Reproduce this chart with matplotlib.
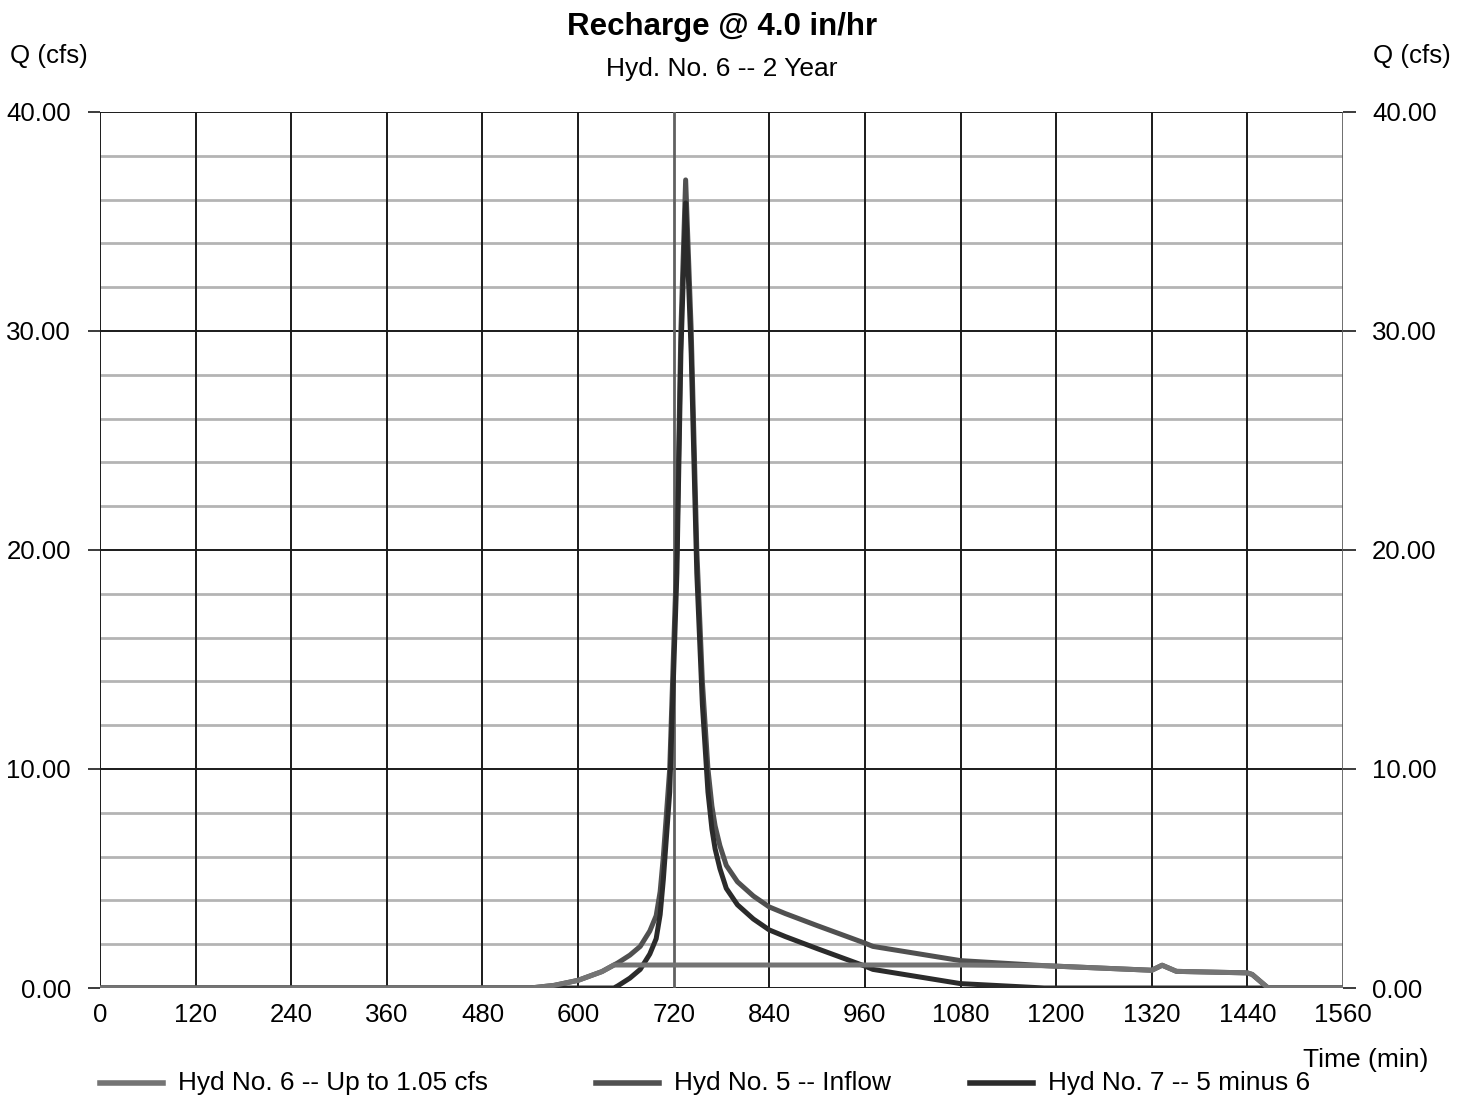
import numpy as np
import matplotlib
matplotlib.use("Agg")
import matplotlib.pyplot as plt
from matplotlib.lines import Line2D

plt.rcParams["font.family"] = ["Liberation Sans", "DejaVu Sans"]

# hydrograph ordinates (time in min, flow in cfs)
time_min = [0, 540, 570, 600, 630, 645, 650, 665, 678, 690, 698, 703, 707, 711, 715, 724, 729,
            735, 742, 749, 756, 763, 768, 772, 778, 786, 800, 820, 840, 860, 900, 960, 970, 1080,
            1185, 1320, 1333, 1351, 1440, 1446, 1466, 1560]
hyd5_inflow = [0, 0, 0.12, 0.35, 0.75, 1.05, 1.15, 1.5, 1.9, 2.6, 3.3, 4.4, 6.0, 8.0, 10.0, 20.0, 30.0,
               36.9, 30.0, 20.0, 14.0, 10.0, 8.3, 7.4, 6.5, 5.6, 4.85, 4.2, 3.7, 3.4, 2.85, 2.05, 1.9, 1.25,
               1.02, 0.81, 1.04, 0.76, 0.69, 0.62, 0.0, 0.0]
hyd6_recharge = [0, 0, 0.12, 0.35, 0.75, 1.05, 1.05, 1.05, 1.05, 1.05, 1.05, 1.05, 1.05, 1.05, 1.05, 1.05, 1.05,
                 1.05, 1.05, 1.05, 1.05, 1.05, 1.05, 1.05, 1.05, 1.05, 1.05, 1.05, 1.05, 1.05, 1.05, 1.05, 1.05, 1.05,
                 1.02, 0.81, 1.04, 0.76, 0.69, 0.62, 0.0, 0.0]
hyd7_diff = [0, 0, 0, 0, 0, 0, 0.1, 0.45, 0.85, 1.55, 2.25, 3.35, 4.95, 6.95, 8.95, 18.95, 28.95,
             35.85, 28.95, 18.95, 12.95, 8.95, 7.25, 6.35, 5.45, 4.55, 3.8, 3.15, 2.65, 2.35, 1.8, 1.0, 0.85, 0.2,
             0, 0, 0, 0, 0, 0, 0, 0]

series_labels = ["Hyd No. 6 -- Up to 1.05 cfs", "Hyd No. 5 -- Inflow", "Hyd No. 7 -- 5 minus 6"]
series_colors = ["#747474", "#505050", "#2b2b2b"]
x_ticks = np.arange(0, 1561, 120)
y_ticks = [0, 10, 20, 30, 40]

fig = plt.figure(figsize=(14.66, 10.98), dpi=100)
ax = fig.add_axes([100 / 1466, 1 - 988 / 1098, 1243 / 1466, 876 / 1098])

ax.set_xlim(0, 1560)
ax.set_ylim(0, 40)

# grid: light minor lines every 2 cfs, dark major every 10, verticals every 120 min
for yv in np.arange(2, 40, 2):
    if yv % 10:
        ax.axhline(yv, color="#b4b4b4", lw=2.0, zorder=1)
for yv in y_ticks:
    ax.axhline(yv, color="#1a1a1a", lw=1.4, zorder=1)
for xv in x_ticks:
    c = "#606060" if xv in (720, 1560) else "#1a1a1a"
    ax.axvline(xv, color=c, lw=1.4 if c == "#1a1a1a" else 2.0, zorder=1)

# inflow underneath, difference over it, recharge line on top
ax.plot(time_min, hyd5_inflow, color=series_colors[1], lw=3.6, zorder=3, solid_joinstyle="round")
ax.plot(time_min, hyd7_diff, color=series_colors[2], lw=3.6, zorder=4, solid_joinstyle="round")
ax.plot(time_min, hyd6_recharge, color=series_colors[0], lw=3.6, zorder=5, solid_joinstyle="round")

for s in ax.spines.values():
    s.set_visible(False)

ax.set_xticks(x_ticks)
ax.set_xticklabels([str(v) for v in x_ticks])
ax.set_yticks(y_ticks)
ax.set_yticklabels([f"{v:.2f}" for v in y_ticks])
ax.tick_params(axis="x", length=0, pad=11, labelsize=18.6)
ax.tick_params(axis="y", length=9, width=1.2, color="#1a1a1a", pad=12, labelsize=18.6,
               left=True, right=True, labelleft=True, labelright=True)

fig.text(722 / 1466, 1 - 27 / 1098, "Recharge @ 4.0 in/hr", ha="center", va="center",
         fontsize=22.5, fontweight="bold")
fig.text(722 / 1466, 1 - 69 / 1098, "Hyd. No. 6 -- 2 Year", ha="center", va="center", fontsize=19)
fig.text(10 / 1466, 1 - 56 / 1098, "Q (cfs)", ha="left", va="center", fontsize=18.6)
fig.text(1373 / 1466, 1 - 56 / 1098, "Q (cfs)", ha="left", va="center", fontsize=18.6)
fig.text(1366 / 1466, 1 - 1060 / 1098, "Time (min)", ha="center", va="center", fontsize=19)

# legend drawn along the bottom
legend_x = [100, 596, 970]
for lx, lab, col in zip(legend_x, series_labels, series_colors):
    y = 1 - 1083 / 1098
    fig.add_artist(Line2D([lx / 1466, (lx + 63) / 1466], [y, y], color=col, lw=4.0))
    fig.text((lx + 78) / 1466, y, lab, ha="left", va="center", fontsize=18.9)

fig.savefig("out.png", dpi=100)
